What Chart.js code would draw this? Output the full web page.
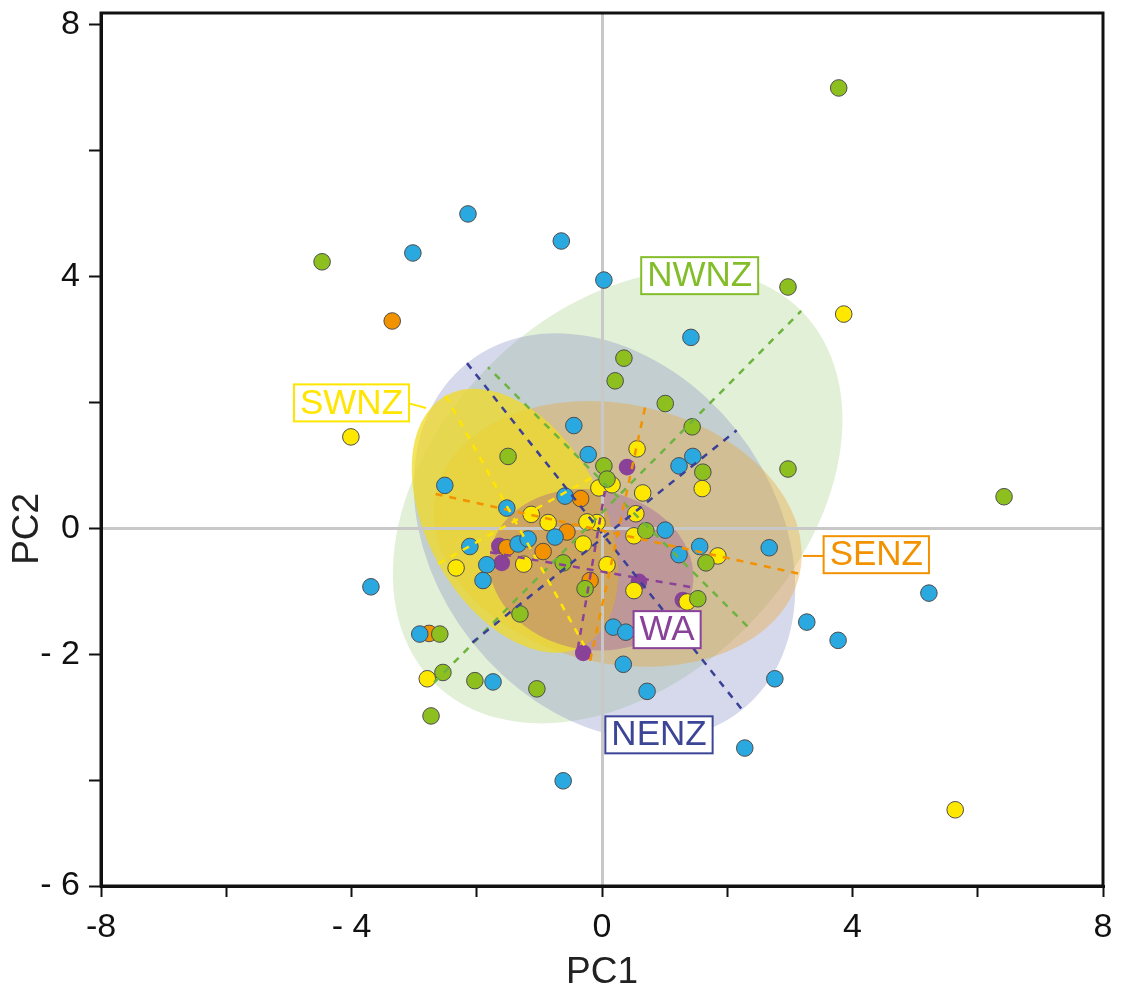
<!DOCTYPE html>
<html>
<head>
<meta charset="utf-8">
<script src="https://cdn.jsdelivr.net/npm/chart.js@4.4.1/dist/chart.umd.min.js"></script>
<style>
  html, body { margin: 0; padding: 0; background: #fff; }
  canvas { display: block; }
</style>
</head>
<body>
<canvas id="pca" width="1121" height="992"></canvas>
<script>
// Regions, in drawing order of their ellipses
const regions = ['NWNZ', 'NENZ', 'SENZ', 'SWNZ', 'WA'];

// PC scores of the samples, by region
const nwnzPC1 = [3.78, -4.47, 2.97, 0.35, 0.21, 1.01, -1.50, 1.44, 0.03, 0.08, 1.61, 2.97, 6.42, 0.70, 1.66, -0.62, -0.27, -1.31, 1.53, -2.59, -2.54, -2.03, -1.04, -2.73];
const nwnzPC2 = [7.00, 4.24, 3.84, 2.71, 2.35, 1.99, 1.15, 1.62, 1.00, 0.79, 0.90, 0.95, 0.51, -0.03, -0.54, -0.54, -0.95, -1.35, -1.11, -1.67, -2.28, -2.41, -2.54, -2.97];

const nenzPC1 = [-2.14, -3.02, -0.65, 0.03, 1.42, -0.45, -2.51, -0.22, 1.45, 1.23, -1.52, -0.59, -2.11, -1.34, -1.18, -0.75, -1.84, -1.90, -2.91, -1.74, -3.69, 1.01, 1.56, 1.23, 2.67, 0.18, 0.38, 0.34, 0.72, 2.76, 3.27, 3.77, 2.28, 5.22, -0.62];
const nenzPC2 = [5.00, 4.38, 4.57, 3.95, 3.04, 1.64, 0.69, 1.18, 1.15, 1.00, 0.33, 0.52, -0.28, -0.24, -0.16, -0.13, -0.57, -0.82, -1.67, -2.43, -0.92, -0.02, -0.28, -0.41, -0.30, -1.56, -1.64, -2.15, -2.58, -2.38, -1.48, -1.77, -3.48, -1.02, -4.00];

const swnzPC1 = [3.86, -4.01, 0.56, -0.05, 0.16, 0.65, 1.60, 0.54, -0.08, 0.51, 1.85, 0.08, -1.13, -0.86, -0.24, -0.30, -2.33, -1.25, -2.79, 5.64, 0.51, 1.36];
const swnzPC2 = [3.41, 1.46, 1.27, 0.65, 0.70, 0.57, 0.64, 0.24, 0.10, -0.11, -0.43, -0.57, 0.23, 0.10, 0.11, -0.24, -0.62, -0.56, -2.38, -4.46, -0.98, -1.16];

const senzPC1 = [-3.35, -0.34, -0.56, -0.94, -1.52, -0.19, -2.76];
const senzPC2 = [3.30, 0.48, -0.05, -0.36, -0.30, -0.82, -1.66];

const waPC1 = [0.40, -1.64, -1.60, 0.59, 1.29, -0.30];
const waPC2 = [0.98, -0.27, -0.54, -0.84, -1.13, -1.97];

// Confidence ellipses, one per region (same order as `regions`)
const ellipseCenterPC1 = [0.25, 0.04, 0.25, -1.39, -0.17];
const ellipseCenterPC2 = [0.51, -0.12, -0.08, 0.13, -0.65];
const ellipseSemiMajor = [4.16, 3.52, 2.975, 2.27, 1.64];
const ellipseSemiMinor = [2.92, 2.70, 2.06, 1.40, 1.27];
const ellipseAngleDeg  = [45.2, -51.4, -12.3, -60.8, -9.8];

// Axis range and ticks with their printed labels (the bottom edge carries "- 6")
const xAxisMin = -8, xAxisMax = 8;
const yAxisMin = -5.67, yAxisMax = 8.19;
const xTickValues = [-8, -6, -4, -2, 0, 2, 4, 6, 8];
const xTickText   = ['-8', '', '- 4', '', '0', '', '4', '', '8'];
const yTickValues = [yAxisMin, -4, -2, 0, 2, 4, 6, 8];
const yTickText   = ['- 6', '', '- 2', '0', '', '4', '', '8'];

// ---- styling ----
const FONT = "'Liberation Sans', Arial, sans-serif";

const pointColor = { NWNZ: '#8DBF1F', NENZ: '#2AA8E0', SWNZ: '#FFE800', SENZ: '#F39200', WA: '#8A4299' };
const fillColor = {
  NWNZ: 'rgba(150, 200, 110, 0.28)',
  NENZ: 'rgba(120, 125, 190, 0.30)',
  SENZ: 'rgba(232, 170, 70, 0.42)',
  SWNZ: 'rgba(240, 218, 35, 0.74)',
  WA:   'rgba(150, 70, 160, 0.33)'
};
const axisLineColor = { NWNZ: '#6DB33F', NENZ: '#3A3F98', SENZ: '#F39200', SWNZ: '#FFE500', WA: '#8A4299' };
const tagColor = { NWNZ: '#84BD2A', NENZ: '#3C4596', SENZ: '#F39200', SWNZ: '#FFE500', WA: '#8A4299' };

// Region tags: box centre in PC units, optional leader line towards the ellipse
const tags = [
  { name: 'NWNZ', x: 1.56,  y: 4.02 },
  { name: 'SWNZ', x: -4.00, y: 2.00, leader: [[-3.11, 2.00], [-2.81, 1.92]] },
  { name: 'SENZ', x: 4.38,  y: -0.41, leader: [[3.56, -0.43], [3.21, -0.43]] },
  { name: 'WA',   x: 1.04,  y: -1.60 },
  { name: 'NENZ', x: 0.91,  y: -3.27 }
];

function zip(xs, ys) { return xs.map((x, i) => ({ x, y: ys[i] })); }

function pointSet(name, xs, ys, bordered) {
  return {
    label: name,
    data: zip(xs, ys),
    pointRadius: 8.3,
    pointHoverRadius: 8.3,
    pointBackgroundColor: pointColor[name],
    pointBorderColor: bordered ? '#4d4d4d' : pointColor[name],
    pointBorderWidth: bordered ? 1 : 0,
    showLine: false
  };
}

// Filled ellipses, drawn underneath the grid and the points
const ellipseFill = {
  id: 'ellipseFill',
  beforeDraw(chart) {
    const { ctx, scales: { x: xs, y: ys } } = chart;
    const kx = xs.getPixelForValue(1) - xs.getPixelForValue(0);
    const ky = ys.getPixelForValue(0) - ys.getPixelForValue(1);
    regions.forEach((name, i) => {
      ctx.save();
      ctx.translate(xs.getPixelForValue(ellipseCenterPC1[i]), ys.getPixelForValue(ellipseCenterPC2[i]));
      ctx.scale(kx, -ky);
      ctx.rotate(ellipseAngleDeg[i] * Math.PI / 180);
      ctx.beginPath();
      ctx.ellipse(0, 0, ellipseSemiMajor[i], ellipseSemiMinor[i], 0, 0, 2 * Math.PI);
      ctx.restore();
      ctx.fillStyle = fillColor[name];
      ctx.fill();
    });
  }
};

// Dashed principal axes of the ellipses, region tags, PC2 title and frame
const overlay = {
  id: 'overlay',
  afterDatasetsDraw(chart) {
    const { ctx, scales: { x: xs, y: ys } } = chart;
    const P = (x, y) => [xs.getPixelForValue(x), ys.getPixelForValue(y)];

    ctx.save();
    ctx.lineWidth = 2.5;
    ctx.setLineDash([7, 7]);
    regions.forEach((name, i) => {
      const th = ellipseAngleDeg[i] * Math.PI / 180;
      const cx = ellipseCenterPC1[i], cy = ellipseCenterPC2[i];
      const a = ellipseSemiMajor[i], b = ellipseSemiMinor[i];
      const ends = [
        [[cx - a * Math.cos(th), cy - a * Math.sin(th)], [cx + a * Math.cos(th), cy + a * Math.sin(th)]],
        [[cx + b * Math.sin(th), cy - b * Math.cos(th)], [cx - b * Math.sin(th), cy + b * Math.cos(th)]]
      ];
      ctx.strokeStyle = axisLineColor[name];
      ends.forEach(([p, q]) => {
        const [x1, y1] = P(p[0], p[1]);
        const [x2, y2] = P(q[0], q[1]);
        ctx.beginPath();
        ctx.moveTo(x1, y1);
        ctx.lineTo(x2, y2);
        ctx.stroke();
      });
    });
    ctx.restore();

    ctx.save();
    ctx.font = '35px ' + FONT;
    ctx.textAlign = 'center';
    ctx.textBaseline = 'middle';
    tags.forEach(t => {
      const col = tagColor[t.name];
      if (t.leader) {
        const [x1, y1] = P(t.leader[0][0], t.leader[0][1]);
        const [x2, y2] = P(t.leader[1][0], t.leader[1][1]);
        ctx.strokeStyle = col;
        ctx.lineWidth = 2;
        ctx.beginPath();
        ctx.moveTo(x1, y1);
        ctx.lineTo(x2, y2);
        ctx.stroke();
      }
      const [cx, cy] = P(t.x, t.y);
      const w = ctx.measureText(t.name).width + 12;
      const h = 37;
      ctx.fillStyle = '#fff';
      ctx.fillRect(cx - w / 2, cy - h / 2, w, h);
      ctx.strokeStyle = col;
      ctx.lineWidth = 2;
      ctx.strokeRect(cx - w / 2, cy - h / 2, w, h);
      ctx.fillStyle = col;
      ctx.fillText(t.name, cx, cy + 1);
    });
    ctx.restore();
  },
  afterDraw(chart) {
    const { ctx, chartArea: a, scales: { y: ys } } = chart;
    ctx.save();
    ctx.strokeStyle = '#111';
    ctx.lineWidth = 3;
    ctx.strokeRect(a.left, a.top, a.right - a.left, a.bottom - a.top);
    // PC2 axis title, centred on PC2 = 0
    ctx.translate(28, ys.getPixelForValue(0));
    ctx.rotate(-Math.PI / 2);
    ctx.font = '37px ' + FONT;
    ctx.fillStyle = '#222';
    ctx.textAlign = 'center';
    ctx.textBaseline = 'middle';
    ctx.fillText('PC2', 0, 0);
    ctx.restore();
  }
};

const zeroGrid = (c) => (c.tick && c.tick.value === 0) ? '#c8c8c8' : 'rgba(0,0,0,0)';

new Chart(document.getElementById('pca'), {
  type: 'scatter',
  data: {
    datasets: [
      pointSet('NWNZ', nwnzPC1, nwnzPC2, true),
      pointSet('NENZ', nenzPC1, nenzPC2, true),
      pointSet('SWNZ', swnzPC1, swnzPC2, true),
      pointSet('SENZ', senzPC1, senzPC2, true),
      pointSet('WA', waPC1, waPC2, false)
    ]
  },
  options: {
    responsive: false,
    animation: false,
    devicePixelRatio: 1,
    layout: { padding: { left: 0, right: 18, top: 13, bottom: 0 } },
    plugins: { legend: { display: false }, tooltip: { enabled: false } },
    scales: {
      x: {
        type: 'linear',
        min: xAxisMin, max: xAxisMax,
        afterBuildTicks: s => { s.ticks = xTickValues.map(v => ({ value: v })); },
        afterFit: s => { s.height = 106; s.paddingLeft = 0; s.paddingRight = 0; },
        grid: { color: zeroGrid, lineWidth: 3, tickColor: '#111', tickLength: 11, tickWidth: 2 },
        border: { display: true, color: '#111', width: 3 },
        ticks: {
          autoSkip: false, maxRotation: 0, padding: 10, color: '#111',
          font: { family: FONT, size: 34 },
          callback: v => xTickText[xTickValues.indexOf(v)]
        },
        title: {
          display: true, text: 'PC1', color: '#222',
          font: { family: FONT, size: 37, lineHeight: 1 },
          padding: { top: 0, bottom: 1 }
        }
      },
      y: {
        type: 'linear',
        min: yAxisMin, max: yAxisMax,
        afterBuildTicks: s => { s.ticks = yTickValues.map(v => ({ value: v })); },
        afterFit: s => { s.width = 101; s.paddingTop = 0; s.paddingBottom = 0; },
        grid: { color: zeroGrid, lineWidth: 3, tickColor: '#111', tickLength: 12, tickWidth: 2 },
        border: { display: true, color: '#111', width: 3 },
        ticks: {
          autoSkip: false, padding: 9, color: '#111',
          font: { family: FONT, size: 34 },
          callback: v => yTickText[yTickValues.indexOf(v)]
        },
        title: { display: false }
      }
    }
  },
  plugins: [ellipseFill, overlay]
});
</script>
</body>
</html>
